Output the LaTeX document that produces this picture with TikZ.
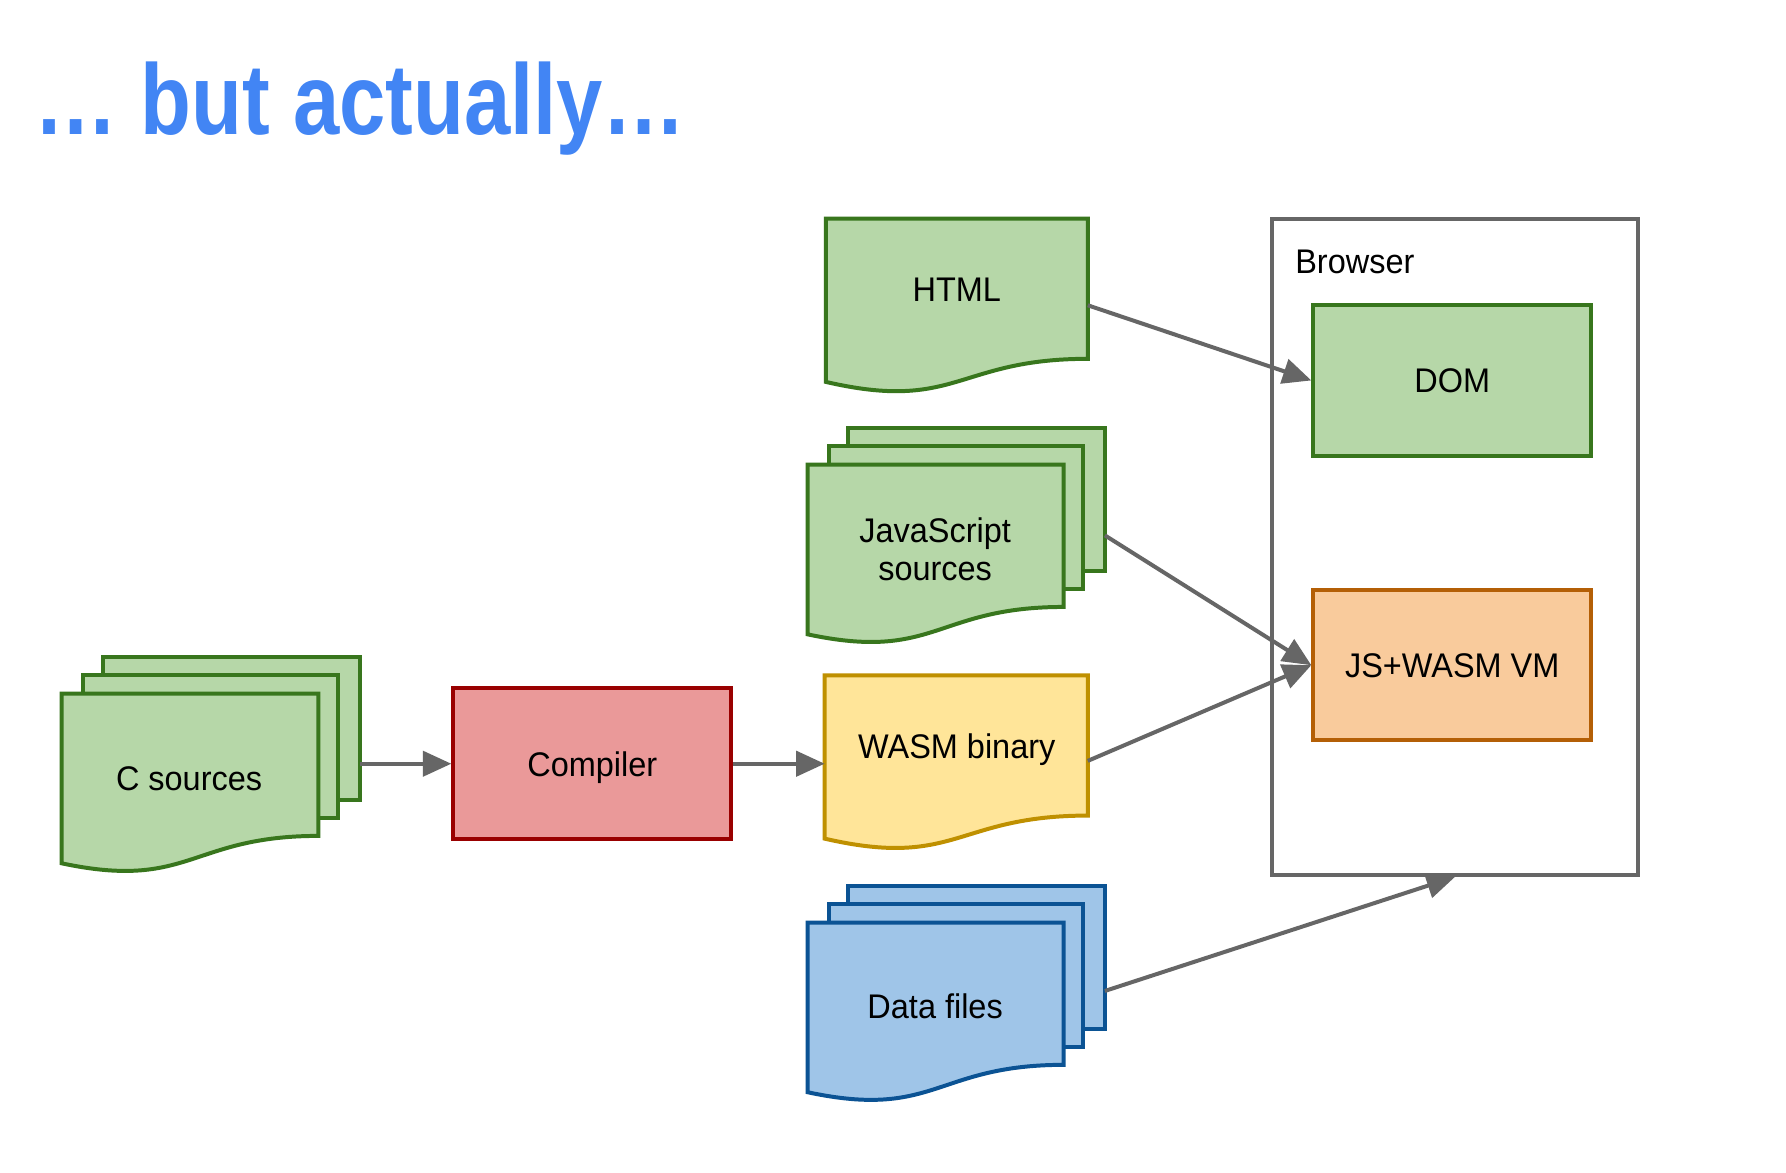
\documentclass[tikz,border=0pt]{standalone}
\usepackage{fontspec}
\setmainfont{Liberation Sans}[FakeStretch=0.95]
\newfontfamily\rsktitlefont{Liberation Sans}[FakeStretch=0.83]
\usetikzlibrary{arrows.meta}
\definecolor{titleblue}{HTML}{4285F4}
\definecolor{gfill}{HTML}{B6D7A8}
\definecolor{gdraw}{HTML}{38761D}
\definecolor{rfill}{HTML}{EA9999}
\definecolor{rdraw}{HTML}{990000}
\definecolor{yfill}{HTML}{FFE599}
\definecolor{ydraw}{HTML}{BF9000}
\definecolor{bfill}{HTML}{9FC5E8}
\definecolor{bdraw}{HTML}{0B5394}
\definecolor{ofill}{HTML}{F9CB9C}
\definecolor{odraw}{HTML}{B45F06}
\definecolor{linegray}{HTML}{666666}
\newcommand\rskdoc[5]{%
  \pgfmathsetmacro\rskR{#1+#3}%
  \pgfmathsetmacro\rskM{#1+#3/2}%
  \pgfmathsetmacro\rskA{#2+0.80194*#4}%
  \pgfmathsetmacro\rskB{#2+1.10750*#4}%
  \pgfmathsetmacro\rskC{#2+0.93389*#4}%
  \draw[#5] (#1,#2) -- (\rskR,#2) -- (\rskR,\rskA) .. controls (\rskM,\rskA) and (\rskM,\rskB) .. (#1,\rskC) -- cycle;}
\newcommand\rskmulti[5]{%
  \draw[#5] ({#1+0.13759*#3},#2) rectangle ({#1+#3},{#2+0.66630*#4});
  \draw[#5] ({#1+0.07093*#3},{#2+0.08403*#4}) rectangle ({#1+0.92593*#3},{#2+0.75241*#4});
  \draw[#5] (#1,{#2+0.17014*#4}) -- ({#1+0.86088*#3},{#2+0.17014*#4}) -- ({#1+0.86088*#3},{#2+0.83435*#4})
     .. controls ({#1+0.43046*#3},{#2+0.83435*#4}) and ({#1+0.43046*#3},{#2+1.08991*#4}) .. (#1,{#2+0.96213*#4}) -- cycle;}
\begin{document}
\begin{tikzpicture}[x=1pt,y=-1pt,
  shp/.style={line width=3.5pt},
  green/.style={shp, fill=gfill, draw=gdraw},
  yellow/.style={shp, fill=yfill, draw=ydraw},
  blue/.style={shp, fill=bfill, draw=bdraw},
  box/.style={shp, inner sep=0pt, minimum width=244pt, minimum height=132pt,
    font=\fontsize{30}{34}\selectfont},
  lbl/.style={inner sep=0pt, anchor=base, align=center, font=\fontsize{30}{34}\selectfont},
  arr/.style={draw=linegray, line width=3.5pt, -{Triangle[length=25pt,width=22pt]}}]
\fill[white] (0,0) rectangle (1568,1029);
\useasboundingbox (0,0) rectangle (1568,1029);

% title
\node[anchor=base west, inner sep=0pt, text=titleblue,
  font=\rsktitlefont\bfseries\fontsize{88}{100}\selectfont] (title) at (30,118) {… but actually…};

% browser
\node[draw=linegray, line width=3.5pt, minimum width=321pt, minimum height=576pt, inner sep=0pt] (browser) at (1277.5,480) {};
\node[lbl, anchor=base west] (browserlbl) at (1137,240) {Browser};
\node[box, fill=gfill, draw=gdraw] (dom) at (1275,334) {};
\node[lbl] (domlbl) at (1275,345) {DOM};
\node[box, fill=ofill, draw=odraw] (vm) at (1275,584) {};
\node[lbl] (vmlbl) at (1275,595) {JS+WASM VM};

% compiler
\node[box, fill=rfill, draw=rdraw, minimum height=133pt] (comp) at (520,670.5) {};
\node[lbl] (complbl) at (520,682) {Compiler};

% documents
\rskdoc{725}{192}{230}{153.4}{green}
\node[lbl] (html) at (840,265) {HTML};
\rskdoc{724}{593}{231}{153.4}{yellow}
\node[lbl] (wasm) at (840,666) {WASM binary};

\rskmulti{54}{577}{262}{188}{green}
\node[lbl] (csrc) at (166,694) {C sources};
\rskmulti{709}{376}{261}{188}{green}
\node[lbl] (js) at (821,510) {JavaScript\\sources};
\rskmulti{709}{778}{261}{188}{blue}
\node[lbl] (data) at (821,894) {Data files};

% connector ends
\coordinate (csout) at (316,670.5);
\coordinate (wasmin) at (724,670.5);
\coordinate (htmlout) at (955,268);
\coordinate (jsout) at (970,470);
\coordinate (wasmout) at (955,668);
\coordinate (dataout) at (970,870);

\draw[arr] (csout) -- (comp.west);
\draw[arr] (comp.east) -- (wasmin);
\draw[arr] (htmlout) -- (dom.west);
\draw[arr] (jsout) -- (vm.west);
\draw[arr] (wasmout) -- (vm.west);
\draw[arr] (dataout) -- (browser.south);
\end{tikzpicture}
\end{document}
